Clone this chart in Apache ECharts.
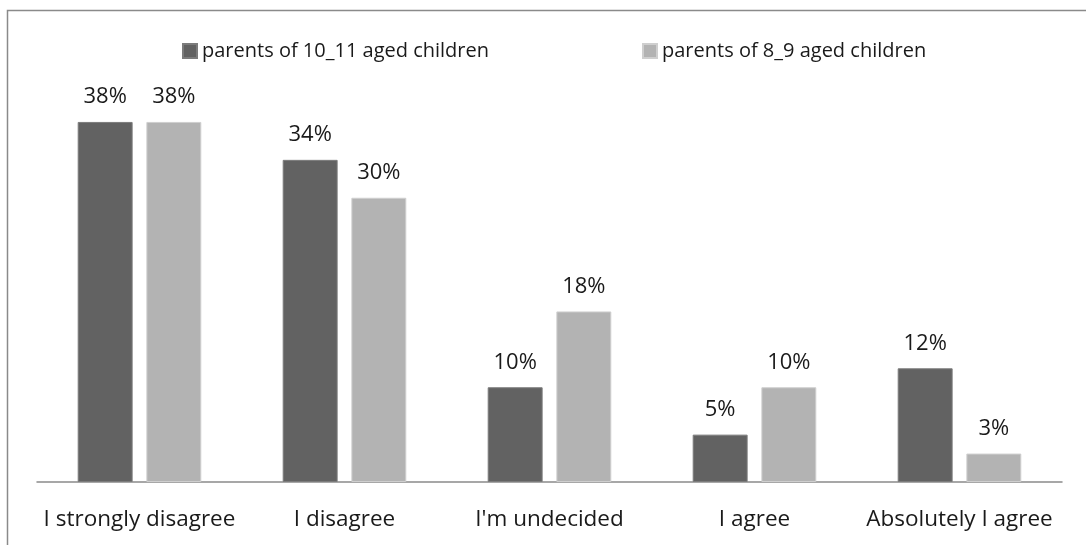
<!DOCTYPE html>
<html>
<head>
<meta charset="utf-8">
<script src="https://cdn.jsdelivr.net/npm/echarts@6/dist/echarts.min.js"></script>
<style>
  html, body { margin: 0; padding: 0; background: #fff; }
  #chart { width: 1086px; height: 545px; }
</style>
</head>
<body>
<div id="chart"></div>
<script>
// Survey answers by parent group (percent of respondents)
var categories = ['I strongly disagree', 'I disagree', "I'm undecided", 'I agree', 'Absolutely I agree'];
var seriesNames = ['parents of 10_11 aged children', 'parents of 8_9 aged children'];
var olderChildren = [38, 34, 10, 5, 12];
var youngerChildren = [38, 30, 18, 10, 3];

var FONT = 'Open Sans';
var TEXT_COLOR = '#1a1a1a';

var chart = echarts.init(document.getElementById('chart'), null, { renderer: 'canvas' });

function barSeries(name, values, fill, edge) {
  return {
    name: name,
    type: 'bar',
    data: values,
    barWidth: '26.8%',
    barGap: '25%',
    itemStyle: { color: fill, borderColor: edge, borderWidth: 1 },
    label: {
      show: true,
      position: 'top',
      distance: 14,
      formatter: '{c}%',
      fontFamily: FONT,
      fontSize: 22,
      color: TEXT_COLOR
    }
  };
}

chart.setOption({
  animation: false,
  backgroundColor: '#ffffff',
  graphic: [{
    type: 'rect',
    shape: { x: 7.5, y: 10.5, width: 1200, height: 700 },
    style: { fill: 'none', stroke: '#8a8a8a', lineWidth: 1.5 },
    silent: true
  }],
  legend: {
    top: 36,
    left: 177,
    itemWidth: 14,
    itemHeight: 14,
    itemGap: 153,
    icon: 'rect',
    textStyle: { fontFamily: FONT, fontSize: 20, color: TEXT_COLOR }
  },
  grid: { left: 37, right: 24, top: 103, bottom: 63 },
  xAxis: {
    type: 'category',
    data: categories,
    axisLine: { lineStyle: { color: '#8a8a8a', width: 1.5 } },
    axisTick: { show: false },
    axisLabel: { margin: 26, fontFamily: FONT, fontSize: 22.5, color: TEXT_COLOR, interval: 0 }
  },
  yAxis: {
    type: 'value',
    min: 0,
    max: 40,
    show: false,
    splitLine: { show: false }
  },
  series: [
    barSeries(seriesNames[0], olderChildren, '#626262', '#7c7c7c'),
    barSeries(seriesNames[1], youngerChildren, '#b3b3b3', '#cfcfcf')
  ]
});
</script>
</body>
</html>
